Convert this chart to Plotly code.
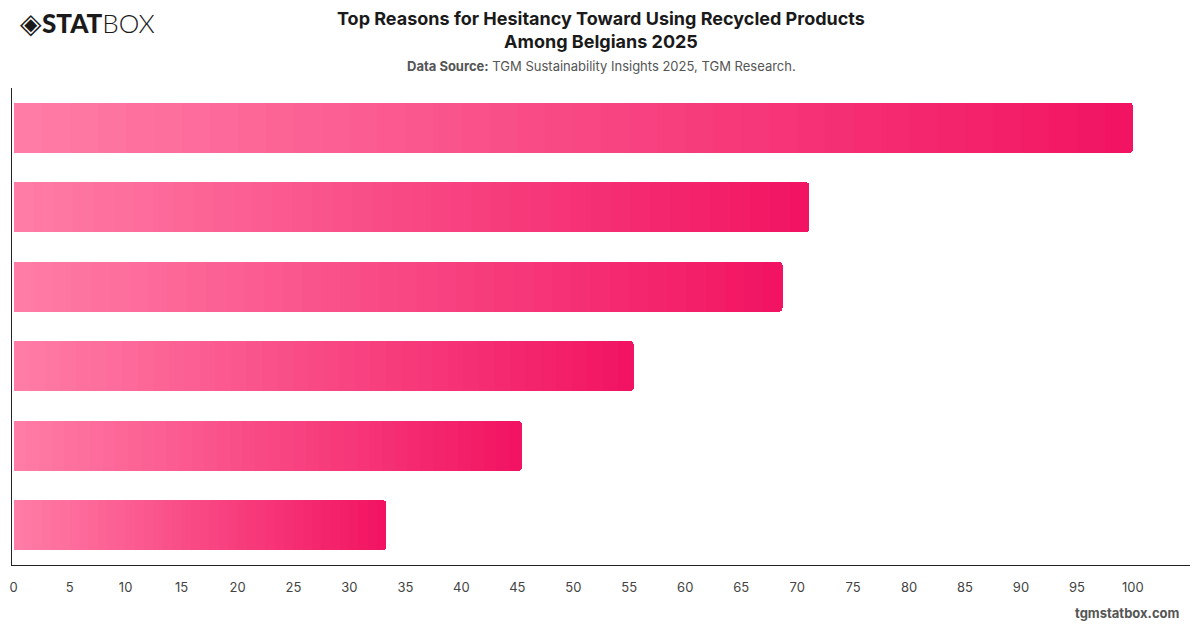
import plotly.graph_objects as go

# ---- data (top to bottom, as drawn) ----
categories = ["Reason 1", "Reason 2", "Reason 3", "Reason 4", "Reason 5", "Reason 6"]
values = [100.0, 71.1, 68.7, 55.4, 45.4, 33.3]
x_ticks = list(range(0, 105, 5))

# ---- style ----
c_start = (255, 124, 166)
c_end = (242, 20, 98)
N_SEG = 40


def lerp(a, b, t):
    return "rgb(%d,%d,%d)" % tuple(round(a[i] + (b[i] - a[i]) * t) for i in range(3))


fig = go.Figure()
# each bar is drawn as a stack of equal slices whose colour runs light -> dark
for k in range(N_SEG):
    t = k / (N_SEG - 1)
    fig.add_trace(go.Bar(
        y=categories,
        x=[v / N_SEG for v in values],
        orientation="h",
        marker=dict(color=lerp(c_start, c_end, t), line=dict(width=0)),
        showlegend=False,
        hoverinfo="skip",
    ))

fig.update_layout(
    width=1200, height=628,
    barmode="stack",
    bargap=0.37,
    barcornerradius=4,
    paper_bgcolor="white",
    plot_bgcolor="white",
    margin=dict(l=10, r=10, t=88, b=63),
    font=dict(family="Inter, Roboto, sans-serif", color="#333333", size=13),
    xaxis=dict(
        range=[-0.15, 105.1],
        tickmode="array", tickvals=x_ticks, ticktext=[str(v) for v in x_ticks],
        showgrid=False, zeroline=False,
        showline=True, linecolor="#222222", linewidth=1,
        ticks="", ticklabelstandoff=10,
        tickfont=dict(size=13, color="#444444"),
        fixedrange=True,
    ),
    yaxis=dict(
        autorange="reversed",
        showticklabels=False, showgrid=False, zeroline=False,
        showline=True, linecolor="#222222", linewidth=1,
        ticks="",
        fixedrange=True,
    ),
)

# title
fig.add_annotation(
    text="<b>Top Reasons for Hesitancy Toward Using Recycled Products<br>Among Belgians 2025</b>",
    xref="paper", yref="paper", x=0.5, y=1, xanchor="center", yanchor="bottom",
    yshift=34, showarrow=False,
    font=dict(size=18, color="#1a1a1a", family="Inter, Roboto, sans-serif"),
)
# subtitle
fig.add_annotation(
    text="<b>Data Source:</b> TGM Sustainability Insights 2025, TGM Research.",
    xref="paper", yref="paper", x=0.5, y=1.0, xanchor="center", yanchor="bottom",
    yshift=12, showarrow=False,
    font=dict(size=13, color="#555555"),
)
# logo
fig.add_annotation(
    text="<span style='font-size:28px'>◈</span><span style='font-size:26px;font-weight:900'>STAT</span><span style='font-size:26px;font-weight:300'>BOX</span>",
    xref="paper", yref="paper", x=0, y=1, xanchor="left", yanchor="bottom",
    xshift=6, yshift=47, showarrow=False,
    font=dict(family="Lato, Roboto, sans-serif", color="#1a1a1a"),
)
# footer
fig.add_annotation(
    text="<b>tgmstatbox.com</b>",
    xref="paper", yref="paper", x=1, y=0, xanchor="right", yanchor="top",
    xshift=-8, yshift=-38, showarrow=False,
    font=dict(size=13, color="#555555"),
)

fig.write_html("out.html")
